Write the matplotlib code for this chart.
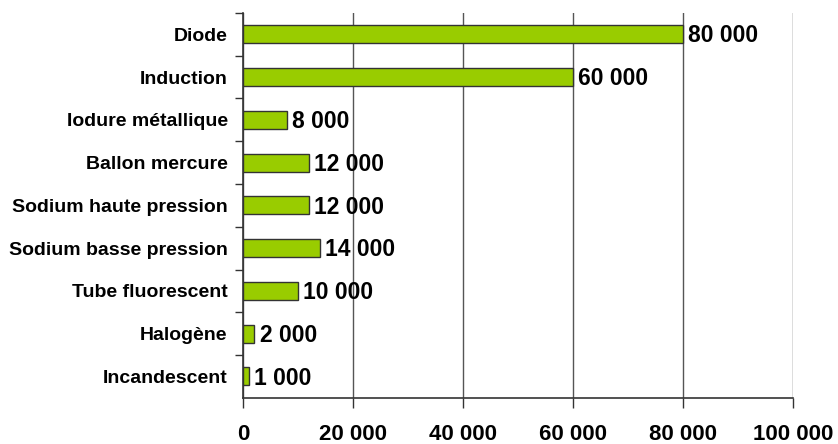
import matplotlib
matplotlib.use("Agg")
from matplotlib import pyplot as plt
from matplotlib.ticker import FuncFormatter

LAMPS = [
    "Diode",
    "Induction",
    "Iodure métallique",
    "Ballon mercure",
    "Sodium haute pression",
    "Sodium basse pression",
    "Tube fluorescent",
    "Halogène",
    "Incandescent",
]
LIFETIME_HOURS = [80000, 60000, 8000, 12000, 12000, 14000, 10000, 2000, 1000]
X_TICKS = [0, 20000, 40000, 60000, 80000, 100000]


def spaced(value):
    """Format with a space as thousands separator"""
    return f"{int(value):,}".replace(",", " ")


def main():
    plt.rcParams["font.family"] = ["Liberation Sans", "DejaVu Sans"]
    fig = plt.figure(figsize=(8.38, 4.44), dpi=100)
    a_x = fig.add_axes([0.29, 0.104, 0.656, 0.867])

    positions = list(range(len(LAMPS)))[::-1]
    a_x.barh(positions, LIFETIME_HOURS, height=0.42, color="#99cc00",
             edgecolor="#333333", linewidth=1, zorder=3)

    for pos, value in zip(positions, LIFETIME_HOURS):
        a_x.text(value + 1000, pos - 0.04, spaced(value), va="center",
                 ha="left", fontsize=16.5, fontweight="bold", zorder=4)

    a_x.set_xlim(0, 100000)
    a_x.set_ylim(-0.5, len(LAMPS) - 0.5)
    a_x.set_xticks(X_TICKS)
    a_x.xaxis.set_major_formatter(FuncFormatter(lambda v, _: spaced(v)))
    a_x.tick_params(axis="x", length=7, width=1, pad=12, labelsize=16,
                    color="#333333")
    for label in a_x.get_xticklabels():
        label.set_fontweight("bold")

    # Category names at bar centres, tick marks between categories
    a_x.set_yticks(positions)
    a_x.set_yticklabels(LAMPS, fontsize=14, fontweight="bold")
    a_x.tick_params(axis="y", which="major", length=0, pad=11)
    a_x.set_yticks([p + 0.5 for p in range(len(LAMPS))], minor=True)
    a_x.tick_params(axis="y", which="minor", length=6, width=1,
                    color="#333333")

    a_x.grid(axis="x", color="#555555", linewidth=1, zorder=0)
    a_x.set_axisbelow(True)
    for side in ("top", "right"):
        a_x.spines[side].set_visible(False)
    for side in ("left", "bottom"):
        a_x.spines[side].set_color("#333333")
        a_x.spines[side].set_linewidth(1.2)

    plt.savefig("out.png")


if __name__ == "__main__":
    main()
